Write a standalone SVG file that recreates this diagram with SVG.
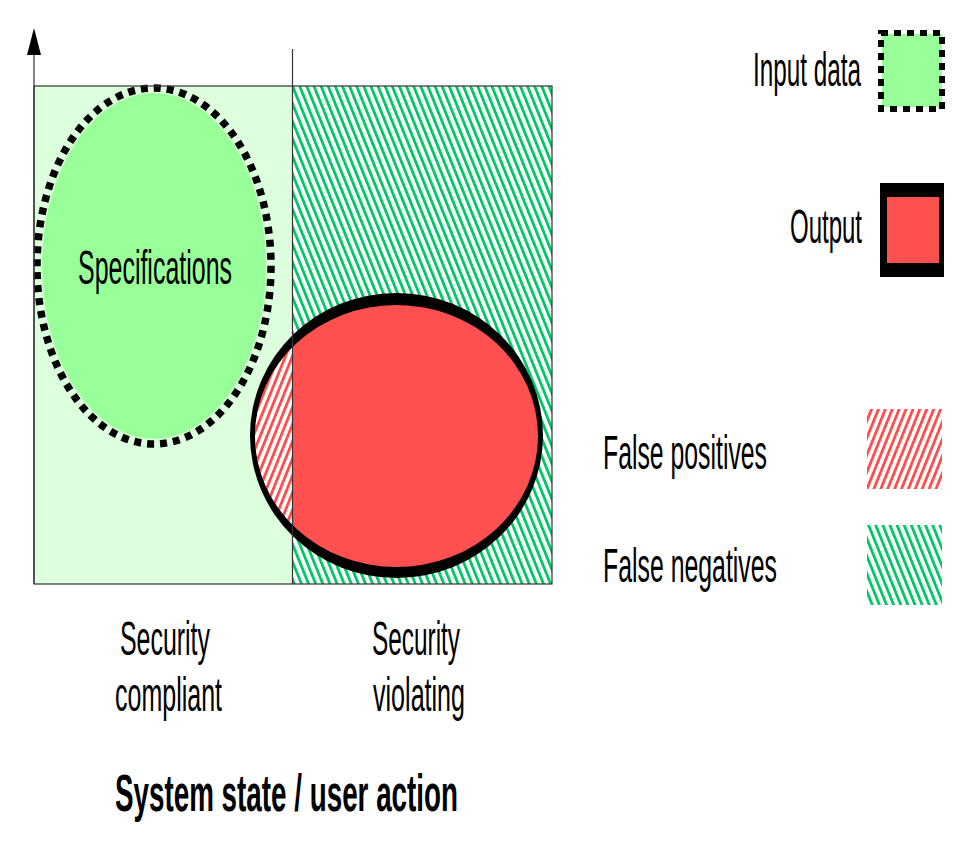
<svg xmlns="http://www.w3.org/2000/svg" width="970" height="850" viewBox="0 0 970 850">
<defs>
<style>
.t{font-family:"Liberation Sans",Arial,sans-serif;font-size:48px;fill:#000}
.b{font-family:"Liberation Sans",Arial,sans-serif;font-size:52px;font-weight:bold;fill:#000}
.frame{fill:none;stroke:#333;stroke-width:1.2}
</style>
<pattern id="hatchG" patternUnits="userSpaceOnUse" width="6.6" height="20" patternTransform="rotate(-22)">
<rect x="0" y="0" width="6.6" height="20" fill="#fff"/>
<rect x="0" y="0" width="2.8" height="20" fill="#00C864"/>
</pattern>
<pattern id="hatchR" patternUnits="userSpaceOnUse" width="6.4" height="20" patternTransform="rotate(22)">
<rect x="0" y="0" width="6.4" height="20" fill="#fff"/>
<rect x="0" y="0" width="2.8" height="20" fill="#FF4D4D"/>
</pattern>
<clipPath id="leftHalf"><rect x="0" y="0" width="292.5" height="850"/></clipPath>
</defs>
<rect width="970" height="850" fill="#fff"/>

<g id="chart-area">
<rect x="34" y="86" width="258.5" height="498" fill="#DDFFDD"/>
<rect x="292.5" y="86" width="259.5" height="498" fill="url(#hatchG)"/>
</g>

<g id="specifications">
<ellipse cx="154" cy="266" rx="112" ry="173" fill="#99FF99"/>
<ellipse cx="154" cy="266" rx="117" ry="178" fill="none" stroke="#000" stroke-width="7.5" stroke-dasharray="7 6"/>
<text class="t" x="78" y="284" textLength="154" lengthAdjust="spacingAndGlyphs">Specifications</text>
</g>

<g id="output">
<ellipse cx="396.5" cy="435.5" rx="146.5" ry="142.5" fill="#000"/>
<ellipse cx="396.5" cy="436" rx="141.5" ry="131" fill="#FF5050"/>
<ellipse cx="396.5" cy="436" rx="141.5" ry="131" fill="url(#hatchR)" clip-path="url(#leftHalf)"/>
</g>

<g id="connectors">
<rect class="frame" x="34" y="86" width="518" height="498"/>
<line x1="292.5" y1="49" x2="292.5" y2="584" stroke="#333" stroke-width="1.2"/>
<line x1="34" y1="584" x2="34" y2="50" stroke="#333" stroke-width="1.2"/>
<polygon points="34,28 27,55 41,55" fill="#000"/>
</g>

<g id="axis-labels">
<text class="t" x="120" y="655" textLength="90" lengthAdjust="spacingAndGlyphs">Security</text>
<text class="t" x="115" y="711" textLength="107" lengthAdjust="spacingAndGlyphs">compliant</text>
<text class="t" x="372" y="655" textLength="88" lengthAdjust="spacingAndGlyphs">Security</text>
<text class="t" x="373" y="711" textLength="92" lengthAdjust="spacingAndGlyphs">violating</text>
<text class="b" x="115" y="811" textLength="343" lengthAdjust="spacingAndGlyphs">System state / user action</text>
</g>

<g id="legend-input">
<text class="t" x="753" y="86" textLength="108" lengthAdjust="spacingAndGlyphs">Input data</text>
<rect x="882" y="34" width="60" height="73" fill="#99FF99"/>
<rect x="881" y="33" width="61" height="76" fill="none" stroke="#000" stroke-width="6" stroke-dasharray="7 6"/>
</g>

<g id="legend-output">
<text class="t" x="790" y="243" textLength="72" lengthAdjust="spacingAndGlyphs">Output</text>
<rect x="880" y="183" width="64" height="94" fill="#000"/>
<rect x="887" y="197" width="52" height="66" fill="#FF5050"/>
</g>

<g id="legend-false-positives">
<text class="t" x="603" y="469" textLength="164" lengthAdjust="spacingAndGlyphs">False positives</text>
<rect x="867" y="409" width="75" height="80" fill="url(#hatchR)"/>
</g>

<g id="legend-false-negatives">
<text class="t" x="603" y="582" textLength="174" lengthAdjust="spacingAndGlyphs">False negatives</text>
<rect x="867" y="525" width="75" height="80" fill="url(#hatchG)"/>
</g>
</svg>
